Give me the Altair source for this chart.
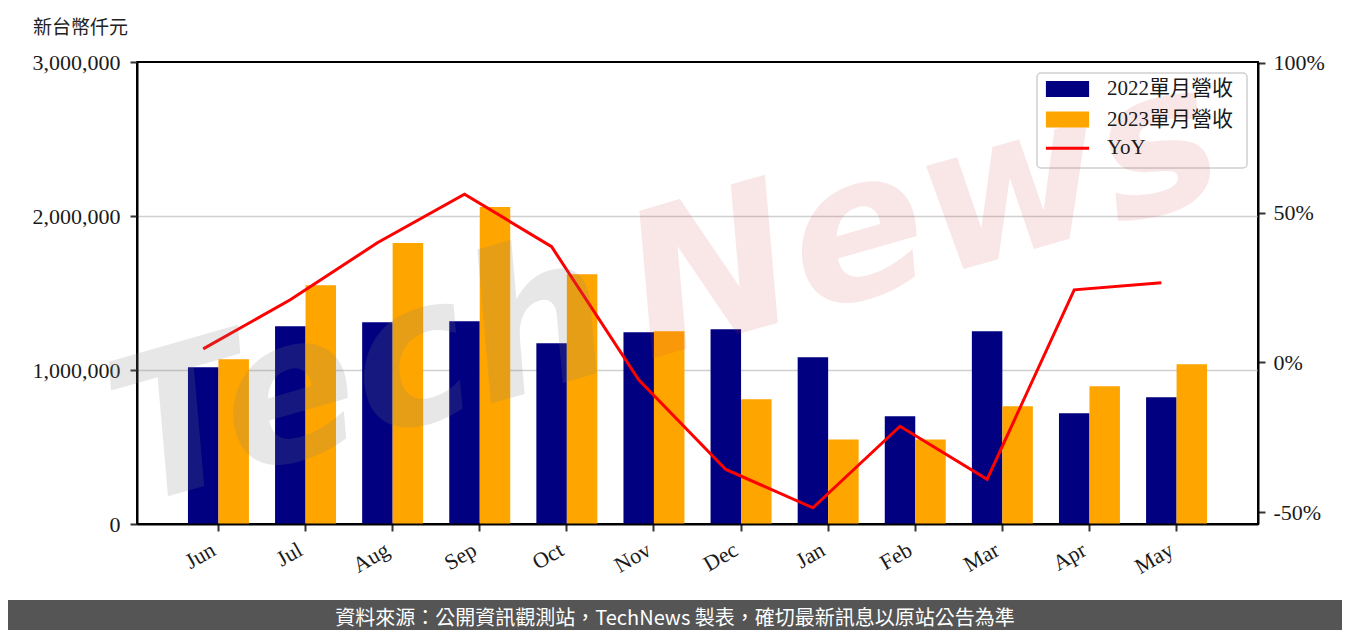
import altair as alt
import pandas as pd

# ---- data ----
months = ["Jun", "Jul", "Aug", "Sep", "Oct", "Nov", "Dec", "Jan", "Feb", "Mar", "Apr", "May"]
rev_2022 = [1018000, 1284000, 1310000, 1316000, 1173000, 1245000, 1265000, 1083000, 699000, 1252000, 719000, 823000]
rev_2023 = [1070000, 1551000, 1824000, 2058000, 1622000, 1252000, 810000, 549000, 549000, 764000, 894000, 1037000]
yoy_pct = [4.5, 20.9, 39.9, 56.1, 38.6, -5.8, -35.7, -48.5, -21.3, -39.0, 24.2, 26.6]
series_names = ["2022單月營收", "2023單月營收"]
line_name = "YoY"
y_axis_title = "新台幣仟元"
footer_text = "資料來源：公開資訊觀測站，TechNews 製表，確切最新訊息以原站公告為準"
left_ticks = [0, 1000000, 2000000, 3000000]
right_ticks = [-50, 0, 50, 100]
bar_colors = ["#000080", "#FFA500"]
line_color = "#FF0000"

bars_df = pd.DataFrame({
    "month": months * 2,
    "series": [series_names[0]] * len(months) + [series_names[1]] * len(months),
    "revenue": rev_2022 + rev_2023,
})
line_df = pd.DataFrame({"month": months, "yoy": yoy_pct, "name": [line_name] * len(months)})
one = pd.DataFrame({"k": [0]})

W, H = 1121, 462
STEP = W / 12.87
SERIF = "Liberation Serif, Noto Sans CJK TC"

x_enc = alt.X(
    "month:N", sort=months,
    scale=alt.Scale(paddingInner=0.3, paddingOuter=0.585),
    axis=alt.Axis(title=None, labelAngle=-30, labelAlign="right", labelBaseline="top",
                  labelOffset=-10, labelPadding=8, grid=False, zindex=1),
)

bars = alt.Chart(bars_df).mark_bar().encode(
    x=x_enc,
    xOffset=alt.XOffset("series:N", sort=series_names,
                        scale=alt.Scale(paddingInner=0, paddingOuter=0)),
    y=alt.Y("revenue:Q",
            scale=alt.Scale(domain=[0, 3000000], nice=False, zero=True),
            axis=alt.Axis(values=left_ticks, format=",d", title=y_axis_title,
                          titleAngle=0, titleX=-57, titleY=-35, titleAlign="center",
                          titleBaseline="middle", titleFont="Noto Sans CJK TC",
                          titleFontSize=19, titleFontWeight="normal", titleColor="#222222",
                          grid=True, gridColor="#d0d0d0", gridWidth=1.5,
                          gridOpacity={"condition": {"test": "datum.value == 0 || datum.value == 3000000", "value": 0}, "value": 1},
                          labelPadding=10)),
    fill=alt.Fill("series:N", sort=series_names,
                  scale=alt.Scale(domain=series_names, range=bar_colors),
                  legend=alt.Legend(title=None, orient="none", legendX=920, legendY=16.5,
                                    direction="vertical",
                                    symbolType="M-2.7,-1H2.7V1H-2.7Z", symbolSize=256,
                                    symbolStrokeWidth=0, symbolOffset=0, labelOffset=29,
                                    rowPadding=8.5, padding=0,
                                    labelFont=SERIF, labelFontSize=21, labelColor="#1a1a1a")),
)

line = alt.Chart(line_df).mark_line(strokeWidth=3, xOffset=-0.175 * STEP).encode(
    x=alt.X("month:N", sort=months),
    y=alt.Y("yoy:Q",
            scale=alt.Scale(domain=[-53.9, 100.2], nice=False, zero=False),
            axis=alt.Axis(orient="right", values=right_ticks, labelExpr="datum.value + '%'",
                          title=None, grid=False, labelPadding=8)),
    stroke=alt.Stroke("name:N", scale=alt.Scale(domain=[line_name], range=[line_color]),
                      legend=alt.Legend(title=None, orient="none", legendX=920, legendY=75.8,
                                        direction="vertical",
                                        symbolType="M-2.7,0H2.7", symbolSize=256,
                                        symbolStrokeWidth=3, symbolOffset=0, labelOffset=29,
                                        padding=0,
                                        labelFont=SERIF, labelFontSize=21, labelColor="#1a1a1a")),
)

legend_box = alt.Chart(one).mark_rect(
    fill="white", fillOpacity=0.8, stroke="#d0d0d0", strokeWidth=1.5, cornerRadius=4
).encode(x=alt.value(900), x2=alt.value(1110), y=alt.value(11), y2=alt.value(106))

wm_tech = alt.Chart(one).mark_text(
    text="Tech", font="DejaVu Sans", fontWeight="bold", fontStyle="italic", fontSize=200,
    angle=344, align="center", baseline="alphabetic", color="#808080", opacity=0.18
).encode(x=alt.value(241), y=alt.value(374))

wm_news = alt.Chart(one).mark_text(
    text="News", font="DejaVu Sans", fontWeight="bold", fontStyle="italic", fontSize=200,
    angle=344, align="center", baseline="alphabetic", color="#d04040", opacity=0.12
).encode(x=alt.value(803), y=alt.value(214))

footer_rect = alt.Chart(one).mark_rect(fill="#555555").encode(
    x=alt.value(-129), x2=alt.value(1205), y=alt.value(538), y2=alt.value(568))

footer_txt = alt.Chart(one).mark_text(
    text=footer_text, font="Noto Sans CJK TC", fontSize=20, color="white",
    align="center", baseline="middle"
).encode(x=alt.value(538), y=alt.value(557))

chart = alt.layer(
    legend_box, bars, line, wm_tech, wm_news, footer_rect, footer_txt
).resolve_scale(
    y="independent"
).properties(
    width=W, height=H,
    padding={"left": 129, "top": 54, "right": 84, "bottom": 106},
    autosize=alt.AutoSizeParams(type="none"),
    background="white",
).configure_view(
    stroke="black", strokeWidth=2
).configure_axis(
    labelFont="Liberation Serif", labelFontSize=22, labelColor="#1a1a1a",
    domainColor="black", domainWidth=2, tickColor="#333333", tickWidth=2, tickSize=7,
)

chart.save("out.html", embed_options={"renderer": "svg", "actions": False})
